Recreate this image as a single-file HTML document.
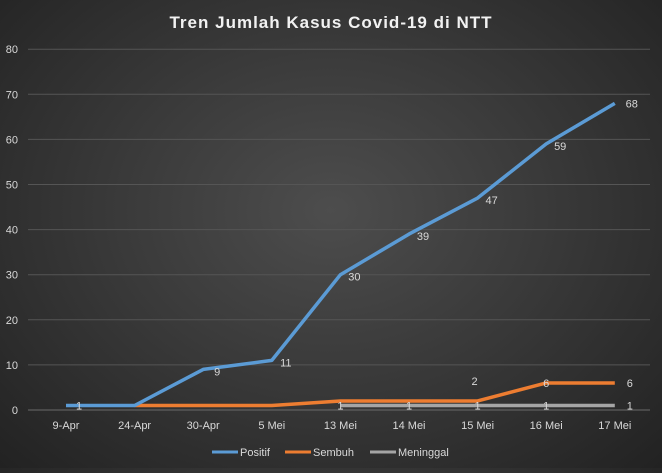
<!DOCTYPE html>
<html><head><meta charset="utf-8"><style>
html,body{margin:0;padding:0;}
body{width:662px;height:468px;overflow:hidden;background:radial-gradient(ellipse at 50% 45%,#4d4d4d 0%,#3a3a3a 45%,#222 100%);font-family:"Liberation Sans",sans-serif;}
svg text{font-family:"Liberation Sans",sans-serif;}
</style></head><body>
<svg id="chart" width="662" height="468" xmlns="http://www.w3.org/2000/svg">
<text x="331" y="28" text-anchor="middle" fill="#f2f2f2" font-size="17" font-weight="bold" letter-spacing="1">Tren Jumlah Kasus Covid-19 di NTT</text>
<g id="grid"></g><g id="axes"></g><g id="series"></g>
<g font-size="11" fill="#d9d9d9">
<g><line x1="212" y1="452" x2="238" y2="452" stroke="#5b9bd5" stroke-width="3"/><text x="240" y="456" fill="#d9d9d9">Positif</text></g>
<g><line x1="285" y1="452" x2="311" y2="452" stroke="#ed7d31" stroke-width="3"/><text x="313" y="456" fill="#d9d9d9">Sembuh</text></g>
<g><line x1="370" y1="452" x2="396" y2="452" stroke="#a5a5a5" stroke-width="3"/><text x="398" y="456" fill="#d9d9d9">Meninggal</text></g>
</g>
</svg>
<script>
const categories=["9-Apr","24-Apr","30-Apr","5 Mei","13 Mei","14 Mei","15 Mei","16 Mei","17 Mei"];
const positif=[1,1,9,11,30,39,47,59,68];
const sembuh=[null,1,1,1,2,2,2,6,6];
const meninggal=[null,null,null,null,1,1,1,1,1];
const yTicks=[0,10,20,30,40,50,60,70,80];
const NS="http://www.w3.org/2000/svg";
function x(i){return 66+i*68.6;}
function y(v){return 410-v*4.51;}
function mk(t,a,p){const e=document.createElementNS(NS,t);for(const k in a)e.setAttribute(k,a[k]);p.appendChild(e);return e;}
const grid=document.getElementById('grid'),axes=document.getElementById('axes'),ser=document.getElementById('series');
yTicks.forEach(v=>{
 const l=mk('line',{x1:28,x2:650,y1:y(v),y2:y(v),stroke:v===0?'#6a6a6a':'#555555','stroke-width':1},grid);
 
 
 const t=mk('text',{x:18,y:y(v)+4,'text-anchor':'end',fill:'#d9d9d9','font-size':11},axes);t.textContent=v;
 
 
});
categories.forEach((c,i)=>{
 const t=mk('text',{x:x(i),y:429,'text-anchor':'middle',fill:'#d9d9d9','font-size':11},axes);t.textContent=c;
 
 
});
function line(data,color,name,labelIdx,off){
 let pts=[];data.forEach((v,i)=>{if(v!==null)pts.push(x(i)+','+y(v));});
 const p=mk('polyline',{points:pts.join(' '),fill:'none',stroke:color,'stroke-width':3.5,'stroke-linejoin':'round'},ser);
 
 
 data.forEach((v,i)=>{
  if(v===null||!labelIdx(i))return;
  const o=off(i);
  const t=mk('text',{x:x(i)+o[0],y:y(v)+o[1],'text-anchor':'middle',fill:'#d9d9d9','font-size':11},ser);t.textContent=v;
  
  
 });
}
line(sembuh,'#ed7d31','sembuh',i=>i>=6,i=>i===6?[-3,-16]:(i===8?[15,4]:[0,4]));
line(meninggal,'#a5a5a5','meninggal',i=>true,i=>i===8?[15,4]:[0,4]);
line(positif,'#5b9bd5','positif',i=>i!==1,i=>i===0?[13,4]:(i===8?[17,4]:[14,6]));
</script>
</body></html>
